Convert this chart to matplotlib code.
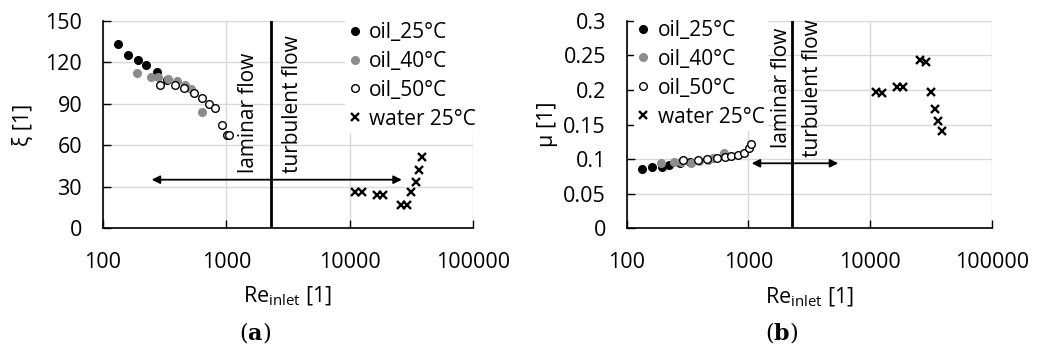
import numpy as np
import matplotlib.pyplot as plt

plt.rcParams['font.family'] = ['Open Sans', 'DejaVu Sans']
plt.rcParams['mathtext.default'] = 'regular'

# Reynolds numbers per series
re_25 = [133, 160, 194, 223, 272, 330]
re_40 = [190, 244, 281, 339, 396, 463, 514, 631]
re_50 = [290, 384, 457, 547, 639, 724, 815, 918, 1007, 1057]
re_water = [11100, 12500, 16700, 18800, 25900, 29000, 31500, 34300, 36500, 38800]

# (a) loss coefficient xi
xi_25 = [133, 125.6, 122, 118, 112.6, 107.5]
xi_40 = [112.3, 109.4, 109.4, 108.2, 106.5, 103.4, 100.3, 84]
xi_50 = [103.4, 103.4, 101.5, 97.8, 93.8, 89.7, 87, 74.5, 67.7, 67]
xi_water = [26, 26, 24, 24, 17, 17, 26, 33.5, 42, 51.5]

# (b) discharge coefficient mu
mu_25 = [0.086, 0.089, 0.089, 0.092, 0.094, 0.096]
mu_40 = [0.095, 0.096, 0.096, 0.095, 0.097, 0.099, 0.101, 0.109]
mu_50 = [0.0985, 0.0985, 0.0995, 0.101, 0.103, 0.105, 0.106, 0.109, 0.116, 0.122]
mu_water = [0.197, 0.195, 0.205, 0.205, 0.243, 0.241, 0.197, 0.173, 0.155, 0.140]

re_crit = 2300
labels = ['oil_25°C', 'oil_40°C', 'oil_50°C', 'water 25°C']

fig = plt.figure(figsize=(10.51, 3.53), dpi=100)
ax_a = fig.add_axes([0.098, 0.354, 0.352, 0.587])
ax_b = fig.add_axes([0.5963, 0.3533, 0.3473, 0.5877])


def style(ax, ymax, ystep):
    ax.set_xscale('log')
    ax.set_xlim(100, 100000)
    ax.set_ylim(0, ymax)
    ax.set_yticks(np.arange(0, ymax + ystep / 2, ystep))
    ax.set_xticks([100, 1000, 10000, 100000])
    ax.minorticks_off()
    ax.xaxis.set_major_formatter(plt.FuncFormatter(lambda v, p: f'{v:.0f}'))
    ax.grid(True, color='#d9d9d9', lw=1)
    ax.set_axisbelow(True)
    for s in ['top', 'right']:
        ax.spines[s].set_visible(False)
    for s in ['left', 'bottom']:
        ax.spines[s].set_linewidth(1.2)
    ax.tick_params(direction='in', length=6, width=1, labelsize=15.5)
    ax.tick_params(axis='x', pad=17)
    ax.tick_params(axis='y', pad=15)
    ax.set_xlabel('Re$_{inlet}$ [1]', fontsize=15.5, labelpad=9)


def series(ax, y25, y40, y50, yw):
    ax.plot(re_25, y25, 'o', color='black', ms=5.5, label=labels[0])
    ax.plot(re_40, y40, 'o', color='#8c8c8c', ms=5.5, label=labels[1])
    ax.plot(re_50, y50, 'o', mfc='white', mec='black', mew=1, ms=5.5, label=labels[2])
    ax.plot(re_water, yw, 'x', color='black', ms=5.5, mew=1.7, label=labels[3])


def legend(ax, anchor):
    leg = ax.legend(loc='upper left', bbox_to_anchor=anchor, fontsize=15,
                    frameon=True, facecolor='white', edgecolor='none', framealpha=1,
                    handlelength=0.6, handletextpad=0.4, labelspacing=0.38,
                    borderpad=0.15, borderaxespad=0)
    leg.set_zorder(5)


# panel (a)
style(ax_a, 150, 30)
series(ax_a, xi_25, xi_40, xi_50, xi_water)
ax_a.axvline(re_crit, color='black', lw=2)
ax_a.annotate('', xy=(248, 35), xytext=(26500, 35),
              arrowprops=dict(arrowstyle='<|-|>', color='black', lw=1.3,
                              mutation_scale=12, shrinkA=0, shrinkB=0))
ax_a.text(1500, 40, 'laminar flow', rotation=90, ha='center', va='bottom', fontsize=15)
ax_a.text(3470, 40, 'turbulent flow', rotation=90, ha='center', va='bottom', fontsize=15)
ax_a.set_ylabel('ξ [1]', fontsize=15.5, labelpad=8)
legend(ax_a, (0.655, 1.01))

# panel (b)
style(ax_b, 0.3, 0.05)
ax_b.yaxis.set_major_formatter(plt.FuncFormatter(lambda v, p: f'{v:g}'))
series(ax_b, mu_25, mu_40, mu_50, mu_water)
ax_b.axvline(re_crit, color='black', lw=2)
ax_b.annotate('', xy=(1064, 0.094), xytext=(5480, 0.094),
              arrowprops=dict(arrowstyle='<|-|>', color='black', lw=1.3,
                              mutation_scale=12, shrinkA=0, shrinkB=0))
ax_b.text(1870, 0.116, 'laminar flow', rotation=90, ha='center', va='bottom', fontsize=15)
ax_b.text(3390, 0.103, 'turbulent flow', rotation=90, ha='center', va='bottom',
          fontsize=15, clip_on=False)
ax_b.set_ylabel('μ [1]', fontsize=15.5, labelpad=4)
legend(ax_b, (0.02, 1.02))

fig.text(0.2426, 0.058, r'($\mathbf{a}$)', ha='center', va='center', fontsize=16,
         family='DejaVu Serif', math_fontfamily='dejavuserif')
fig.text(0.744, 0.058, r'($\mathbf{b}$)', ha='center', va='center', fontsize=16,
         family='DejaVu Serif', math_fontfamily='dejavuserif')

fig.savefig('out.png', dpi=100)
